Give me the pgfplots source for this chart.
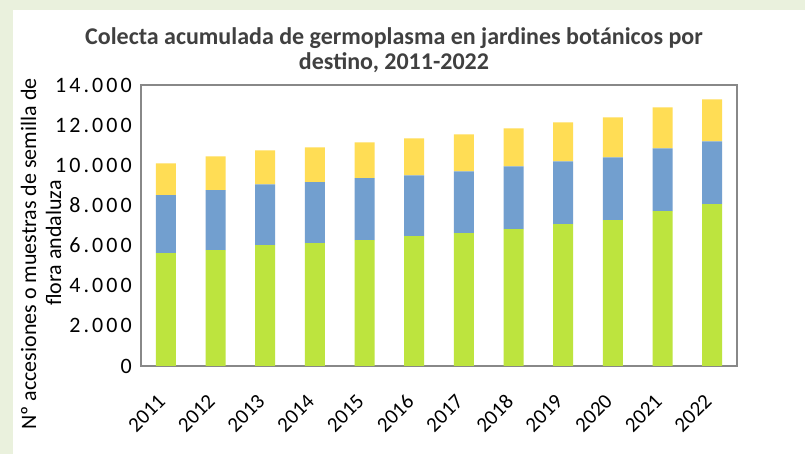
\documentclass[border=0pt]{standalone}
\usepackage{fontspec}
\setmainfont{Carlito}
\newfontfamily\ytickfont[LetterSpace=14]{Carlito}
\usepackage{pgfplots}
\pgfplotsset{compat=1.18}
\definecolor{bggreen}{RGB}{234,241,221}
\definecolor{cgreen}{RGB}{189,228,62}
\definecolor{cblue}{RGB}{114,159,207}
\definecolor{cyellow}{RGB}{255,221,85}
\definecolor{axgray}{RGB}{136,136,136}
\definecolor{titlegray}{RGB}{64,64,64}
\begin{document}
\begin{tikzpicture}
\useasboundingbox (0,0) rectangle (805bp,454bp);
\fill[bggreen] (0,0) rectangle (805bp,454bp);
\fill[white] (13bp,0) rectangle (805bp,444bp);
\node[font=\bfseries\fontsize{24bp}{25bp}\selectfont, text=titlegray, anchor=base, inner sep=0pt] at (394bp,409bp)
  {Colecta acumulada de germoplasma en jardines botánicos por};
\node[font=\bfseries\fontsize{24bp}{25bp}\selectfont, text=titlegray, anchor=base, inner sep=0pt] at (394bp,384bp)
  {destino, 2011-2022};
\node[font=\fontsize{22bp}{24bp}\selectfont, rotate=90, anchor=base, inner sep=0pt] at (36bp,200bp)
  {Nº accesiones o muestras de semilla de};
\node[font=\fontsize{22bp}{24bp}\selectfont, rotate=90, anchor=base, inner sep=0pt] at (61bp,211bp)
  {flora andaluza};
\begin{axis}[
  at={(141bp,88bp)}, anchor=south west,
  width=596bp, height=281bp, scale only axis,
  ybar stacked, bar width=20bp,
  xmin=-0.5, xmax=11.5, ymin=0, ymax=14000,
  xtick={0,...,11},
  xticklabels={2011,2012,2013,2014,2015,2016,2017,2018,2019,2020,2021,2022},
  ytick={0,2000,...,14000},
  /pgf/number format/assume math mode=true,
  /pgf/number format/1000 sep={.},
  scaled y ticks=false,
  major tick length=0pt,
  tick label style={inner sep=0pt},
  x tick label style={font=\fontsize{21bp}{24bp}\selectfont, yshift=-27bp, xshift=-9bp, rotate=45, anchor=north east},
  y tick label style={font=\ytickfont\fontsize{22bp}{24bp}\selectfont, xshift=-9bp, anchor=east},
  axis line style={draw=axgray, line width=1.5bp},
  every axis plot/.append style={draw=none},
  clip=false,
]
\addplot[fill=cgreen] coordinates {(0,5620) (1,5770) (2,6020) (3,6120) (4,6270) (5,6470) (6,6620) (7,6815) (8,7065) (9,7265) (10,7710) (11,8060)};
\addplot[fill=cblue] coordinates {(0,2890) (1,2990) (2,3035) (3,3035) (4,3085) (5,3030) (6,3080) (7,3135) (8,3135) (9,3135) (10,3135) (11,3135)};
\addplot[fill=cyellow] coordinates {(0,1590) (1,1690) (2,1690) (3,1740) (4,1790) (5,1840) (6,1840) (7,1890) (8,1940) (9,1990) (10,2040) (11,2090)};
\end{axis}
\end{tikzpicture}
\end{document}
